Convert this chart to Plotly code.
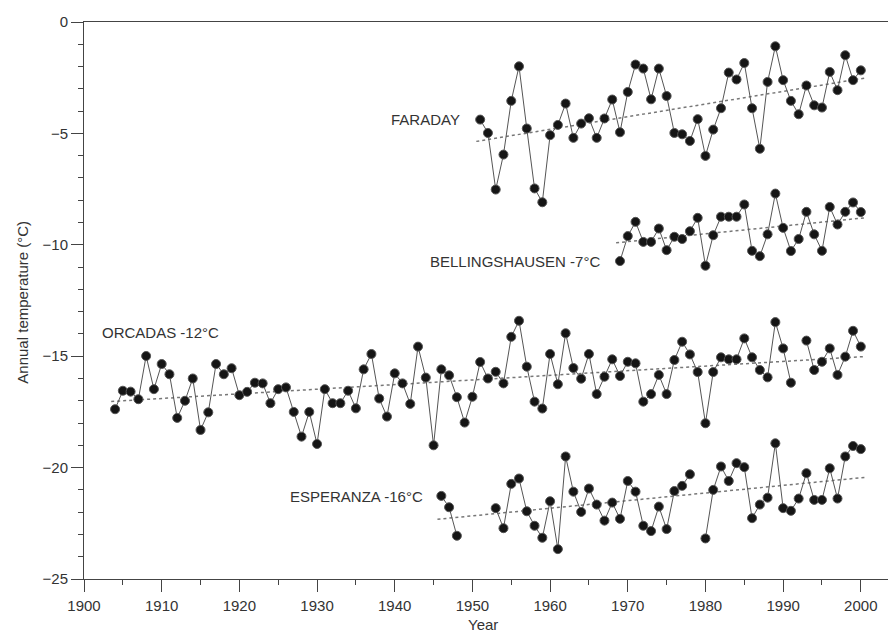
import numpy as np
import plotly.graph_objects as go

# Annual mean temperatures (deg C) at Antarctic Peninsula stations
orcadas_years = list(range(1904, 2001))
orcadas_temp = [
    -17.38, -16.55, -16.59, -16.93, -14.99, -16.48, -15.35, -15.81, -17.77, -17.00,  # 1904-1913
    -16.00, -18.31, -17.52, -15.35, -15.81, -15.54, -16.75, -16.60, -16.19, -16.22,  # 1914-1923
    -17.11, -16.48, -16.40, -17.50, -18.61, -17.50, -18.94, -16.48, -17.11, -17.11,  # 1924-1933
    -16.55, -17.34, -15.59, -14.90, -16.90, -17.71, -15.77, -16.22, -17.14, -14.57,  # 1934-1943
    -15.96, -19.00, -15.59, -15.86, -16.84, -17.98, -16.82, -15.26, -16.00, -15.70,  # 1944-1953
    -16.22, -14.13, -13.41, -15.47, -17.04, -17.35, -14.90, -16.26, -13.97, -15.53,  # 1954-1963
    -16.01, -14.90, -16.70, -15.92, -15.14, -15.89, -15.25, -15.32, -17.04, -16.70,  # 1964-1973
    -15.84, -16.70, -15.17, -14.35, -14.92, -15.71, -18.01, -15.71, -15.05, -15.14,  # 1974-1983
    -15.14, -14.20, -15.05, -15.62, -15.95, -13.47, -14.65, -16.19, None, -14.30,    # 1984-1993
    -15.62, -15.25, -14.65, -15.84, -15.02, -13.86, -14.57,                          # 1994-2000
]

faraday_years = list(range(1951, 2001))
faraday_temp = [
    -4.38, -4.98, -7.52, -5.95, -3.54, -1.99, -4.78, -7.47, -8.09, -5.08,  # 1951-1960
    -4.62, -3.66, -5.20, -4.56, -4.32, -5.20, -4.33, -3.48, -4.95, -3.14,  # 1961-1970
    -1.91, -2.09, -3.47, -2.09, -3.32, -4.98, -5.04, -5.34, -4.36, -6.01,  # 1971-1980
    -4.83, -3.87, -2.27, -2.58, -1.84, -3.87, -5.69, -2.69, -1.09, -2.61,  # 1981-1990
    -3.54, -4.14, -2.85, -3.74, -3.84, -2.24, -3.06, -1.49, -2.61, -2.17,  # 1991-2000
]

bellingshausen_years = list(range(1969, 2001))
bellingshausen_temp = [
    -10.73, -9.61, -8.97, -9.87, -9.87, -9.27, -10.24, -9.64, -9.74, -9.39,  # 1969-1978
    -8.79, -10.94, -9.57, -8.74, -8.74, -8.74, -8.19, -10.27, -10.51, -9.53,  # 1979-1988
    -7.70, -9.24, -10.28, -9.74, -8.52, -9.53, -10.27, -8.30, -9.09, -8.52,   # 1989-1998
    -8.10, -8.53,                                                             # 1999-2000
]

esperanza_years = list(range(1946, 2001))
esperanza_temp = [
    -21.27, -21.78, -23.06, None, None, None, None, -21.82, -22.72, -20.73,    # 1946-1955
    -20.49, -21.96, -22.61, -23.15, -21.51, -23.66, -19.50, -21.08, -21.99, -20.94,  # 1956-1965
    -21.66, -22.38, -21.57, -22.30, -20.60, -21.08, -22.61, -22.85, -21.75, -22.76,  # 1966-1975
    -21.05, -20.82, -20.30, None, -23.18, -21.00, -19.95, -20.60, -19.80, -19.98,    # 1976-1985
    -22.27, -21.66, -21.35, -18.91, -21.82, -21.94, -21.39, -20.25, -21.45, -21.45,  # 1986-1995
    -20.03, -21.39, -19.50, -19.03, -19.17,                                          # 1996-2000
]

stations = [
    (orcadas_years, orcadas_temp),
    (faraday_years, faraday_temp),
    (bellingshausen_years, bellingshausen_temp),
    (esperanza_years, esperanza_temp),
]

INK = "#333333"
FONT = "Liberation Sans, Arial, sans-serif"

fig = go.Figure()

for years, temps in stations:
    assert len(years) == len(temps)
    # least-squares linear trend over the observed years
    yr = np.array([y for y, t in zip(years, temps) if t is not None], dtype=float)
    tv = np.array([t for t in temps if t is not None], dtype=float)
    slope, icpt = np.polyfit(yr, tv, 1)
    tx = np.array([years[0] - 0.5, years[-1] + 0.5])
    fig.add_trace(go.Scatter(
        x=tx, y=slope * tx + icpt, mode="lines",
        line=dict(color="#777777", width=1.5, dash="dot"),
        hoverinfo="skip", showlegend=False,
    ))
    fig.add_trace(go.Scatter(
        x=years, y=temps, mode="lines+markers",
        line=dict(color="#555555", width=1),
        marker=dict(symbol="circle", size=9, color="#151515",
                    line=dict(color="#555555", width=1)),
        connectgaps=False, showlegend=False,
    ))

# station labels
labels = [
    ("FARADAY", 1948.6, -4.38, "right"),
    ("BELLINGSHAUSEN -7°C", 1966.7, -10.77, "right"),
    ("ORCADAS -12°C", 1909.9, -13.93, "center"),
    ("ESPERANZA -16°C", 1943.9, -21.30, "right"),
]
for text, x, y, anchor in labels:
    fig.add_annotation(x=x, y=y, text=text, showarrow=False, xanchor=anchor,
                       yanchor="middle", font=dict(family=FONT, size=15, color=INK))

# axis titles
fig.add_annotation(x=0.496, y=-0.082, xref="paper", yref="paper", text="Year",
                   showarrow=False, xanchor="center", yanchor="middle",
                   font=dict(family=FONT, size=15, color=INK))
fig.add_annotation(x=-0.0765, y=0.497, xref="paper", yref="paper",
                   text="Annual temperature (°C)", textangle=-90, showarrow=False,
                   xanchor="center", yanchor="middle",
                   font=dict(family=FONT, size=15, color=INK))

axis_common = dict(
    showgrid=False, zeroline=False, showline=True, linecolor="#444444", linewidth=1,
    ticks="outside", ticklen=12, tickcolor="#444444", tickwidth=1,
    tickfont=dict(family=FONT, size=15, color=INK),
)

fig.update_xaxes(range=[1900, 2003.5], tick0=1900, dtick=10, mirror=True,
                 minor=dict(dtick=5, ticks="outside", ticklen=5, tickcolor="#444444"),
                 ticklabelstandoff=1, **axis_common)
fig.update_yaxes(range=[-25, 0], tick0=0, dtick=5,
                 minor=dict(dtick=1, ticks="outside", ticklen=5, tickcolor="#444444"),
                 ticklabelstandoff=0, **axis_common)

fig.update_layout(
    width=888, height=634,
    margin=dict(l=84, r=0, t=22, b=55),
    paper_bgcolor="white", plot_bgcolor="white",
    font=dict(family=FONT, color=INK),
    showlegend=False,
)

fig.write_html("out.html")
